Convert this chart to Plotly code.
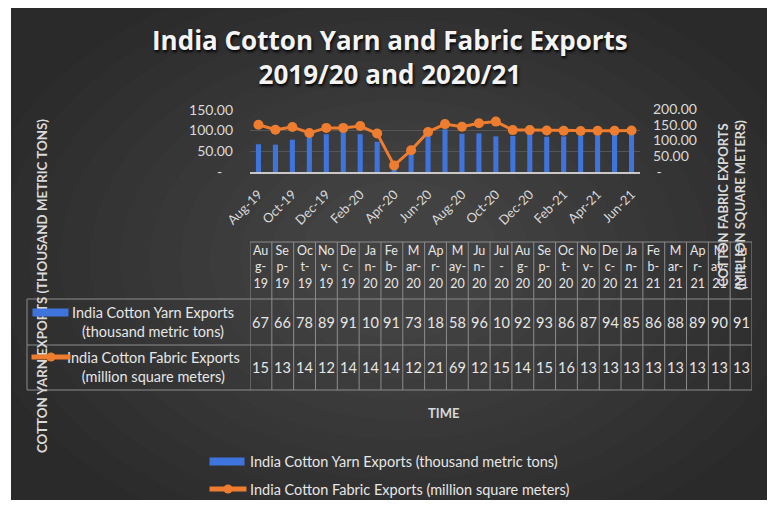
import plotly.graph_objects as go

W, H = 775, 508
OFF = 8                      # browser body margin
FW, FH = W - 2 * OFF, H - 2 * OFF

months = ["Aug-19", "Sep-19", "Oct-19", "Nov-19", "Dec-19", "Jan-20", "Feb-20", "Mar-20",
          "Apr-20", "May-20", "Jun-20", "Jul-20", "Aug-20", "Sep-20", "Oct-20", "Nov-20",
          "Dec-20", "Jan-21", "Feb-21", "Mar-21", "Apr-21", "May-21", "Jun-21"]
yarn = [67, 66, 78, 89, 91, 101, 91, 73, 18, 58, 96, 103, 92, 93, 86, 87, 94, 85, 86, 88, 89, 90, 91]
fabric = [150, 134, 143, 124, 140, 140, 146, 122, 21, 69, 127, 152, 144, 155, 160, 133, 133, 132,
          131, 130, 131, 131, 132]

left_tickvals = [0, 50, 100, 150]
left_ticktext = ["-\u00a0\u00a0\u00a0", "50.00", "100.00", "150.00"]
right_tickvals = [0, 50, 100, 150, 200]
right_ticktext = ["\u00a0-", "50.00", "100.00", "150.00", "200.00"]

yarn_label = ["India Cotton Yarn Exports", "(thousand metric tons)"]
fabric_label = ["India Cotton Fabric Exports", "(million square meters)"]
title_lines = ["India Cotton Yarn and Fabric Exports", "2019/20 and 2020/21"]
left_title = "COTTON YARN EXPORTS (THOUSAND METRIC TONS)"
right_title = ["COTTON FABRIC EXPORTS", "(MILLION SQUARE METERS)"]
x_title = "TIME"

BLUE = "#3f74dc"
ORANGE = "#ef7d2f"
TXT = "#e6e6e6"
AXT = "#d9d9d9"
GRIDC = "#8c8c8c"
FONT = "Lato, 'Open Sans', sans-serif"
TFONT = "'Open Sans', Lato, sans-serif"


def px(x):
    return (x - OFF) / FW


def py(y):
    return 1 - (y - OFF) / FH


def wrap_header(label):
    mon, yr = label.split("-")
    cut = 1 if mon[0] == "M" else (3 if mon == "Jul" else 2)
    return [mon[:cut], mon[cut:] + "-", yr]


fig = go.Figure()
fig.add_trace(go.Bar(x=months, y=yarn, name=" ".join(yarn_label), marker=dict(color=BLUE, line=dict(width=0)),
                     width=0.3, xaxis="x", yaxis="y"))
fig.add_trace(go.Scatter(x=months, y=fabric, name=" ".join(fabric_label), mode="lines+markers",
                         line=dict(color=ORANGE, width=3), marker=dict(color=ORANGE, size=10),
                         xaxis="x", yaxis="y2"))
# invisible trace to establish the data-table axis
fig.add_trace(go.Scatter(x=months, y=[0.5] * len(months), mode="markers", marker=dict(opacity=0),
                         hoverinfo="skip", showlegend=False, xaxis="x2", yaxis="y3"))

shapes = []
# background panel with a soft radial light
shapes.append(dict(type="rect", xref="paper", yref="paper", x0=px(11), x1=px(790), y0=py(520), y1=py(0),
                   fillcolor="#2a2a2a", line=dict(width=0), layer="below"))
for k in range(12):
    rx = 430 - k * 30
    ry = 300 - k * 20
    cx, cy = 400, 260
    shapes.append(dict(type="circle", xref="paper", yref="paper", x0=px(cx - rx), x1=px(cx + rx),
                       y0=py(cy + ry), y1=py(cy - ry), fillcolor="rgba(255,255,255,0.013)",
                       line=dict(width=0), layer="below"))
shapes.append(dict(type="rect", xref="paper", yref="paper", x0=px(0), x1=px(11), y0=0, y1=1,
                   fillcolor="white", line=dict(width=0), layer="below"))

n = len(months)
# table grid
for i in range(n + 1):
    shapes.append(dict(type="line", xref="x2", yref="paper", x0=i - 0.5, x1=i - 0.5, y0=py(390), y1=py(242),
                       line=dict(color=GRIDC, width=1)))
shapes.append(dict(type="line", xref="x2", yref="paper", x0=-0.5, x1=n - 0.5, y0=py(242), y1=py(242),
                   line=dict(color=GRIDC, width=1)))
for yy in (299, 345, 390):
    shapes.append(dict(type="line", xref="paper", yref="paper", x0=px(27), x1=px(752), y0=py(yy), y1=py(yy),
                       line=dict(color=GRIDC, width=1)))
shapes.append(dict(type="line", xref="paper", yref="paper", x0=px(27), x1=px(27), y0=py(390), y1=py(299),
                   line=dict(color=GRIDC, width=1)))

ann = []


def A(text, x, y, xref="paper", size=14.5, color=TXT, family=FONT, **kw):
    d = dict(text=text, x=x, y=y, xref=xref, yref="paper", showarrow=False, xanchor="center",
             yanchor="middle", font=dict(family=family, size=size, color=color))
    d.update(kw)
    return d


# title
a = A("<b>" + title_lines[0] + "<br>" + title_lines[1] + "</b>", px(390), py(57), size=26,
      color="#f4f4f4", family=TFONT, align="center")
a["font"]["shadow"] = "1px 2px 3px #000"
ann.append(a)
# left axis title
ann.append(A("<b>" + left_title + "</b>", px(42), py(286), size=13.3, color=AXT, textangle=-90))
# table header cells
for i, m in enumerate(months):
    ann.append(A("<br>".join(wrap_header(m)), i, py(267), xref="x2", size=12.5, align="center"))
# table values
for row_vals, yy in ((yarn, 322), (fabric, 367)):
    for i, v in enumerate(row_vals):
        ann.append(A(str(int(round(v)))[:2], i, py(yy), xref="x2"))
# row headers
for lbl, yy in ((yarn_label, 322), (fabric_label, 367)):
    ann.append(A(lbl[0] + "<br>" + lbl[1], px(153), py(yy), align="center"))


def key_bar(x0, x1, yc):
    return dict(text=" ", x=px((x0 + x1) / 2), y=py(yc), xref="paper", yref="paper", showarrow=False,
                xanchor="center", yanchor="middle",
                width=x1 - x0, height=7, bgcolor=BLUE, borderpad=0, font=dict(size=4))


def key_line(x0, x1, yc):
    cx = (x0 + x1) / 2
    shapes.append(dict(type="circle", xref="paper", yref="paper", x0=px(cx - 4.5), x1=px(cx + 4.5),
                       y0=py(yc + 4.5), y1=py(yc - 4.5), fillcolor=ORANGE, line=dict(width=0)))
    return dict(text=" ", x=px(cx), y=py(yc), xref="paper", yref="paper", showarrow=False,
                xanchor="center", yanchor="middle",
                width=x1 - x0, height=4, bgcolor=ORANGE, borderpad=0, font=dict(size=2))


ann.append(key_bar(33, 68, 312))
ann.append(key_line(32, 70, 357))
# right axis title
ann.append(A("<b>" + right_title[0] + "<br>" + right_title[1] + "</b>", px(731), py(205), size=13,
             color=AXT, textangle=-90))
# x title
ann.append(A("<b>" + x_title + "</b>", px(443), py(413), size=13, color=AXT))
# bottom legend
ann.append(key_bar(210, 244, 461))
ann.append(A(" ".join(yarn_label), px(248), py(461), xanchor="left"))
ann.append(key_line(210, 246, 489))
ann.append(A(" ".join(fabric_label), px(248), py(489), xanchor="left"))

fig.update_layout(
    width=FW, height=FH, margin=dict(l=0, r=0, t=0, b=0, autoexpand=False), paper_bgcolor="white",
    plot_bgcolor="rgba(0,0,0,0)", showlegend=False,
    xaxis=dict(domain=[px(250), px(640)], anchor="y", type="category", range=[-0.5, n - 0.5],
               tickmode="linear", tick0=0, dtick=2, tickangle=-45, showgrid=False, automargin=False,
               showline=True, linecolor="#c8c8c8", linewidth=1.5, ticks="",
               tickfont=dict(family=FONT, size=13, color=AXT), ticklabelstandoff=8),
    yaxis=dict(domain=[py(172), py(109)], range=[0, 152], tickvals=left_tickvals, ticktext=left_ticktext,
               showgrid=True, gridcolor="#555555", gridwidth=1, zeroline=False, showline=False,
               automargin=False,
               tickfont=dict(family=FONT, size=14, color=AXT), ticklabelstandoff=16),
    yaxis2=dict(overlaying="y", side="right", anchor="x", range=[0, 200], tickvals=right_tickvals,
                ticktext=right_ticktext, showgrid=False, zeroline=False, showline=False, automargin=False,
                tickfont=dict(family=FONT, size=14, color=AXT), ticklabelstandoff=12),
    xaxis2=dict(domain=[px(250), px(752)], anchor="y3", type="category", range=[-0.5, n - 0.5],
                visible=False, automargin=False),
    yaxis3=dict(domain=[py(390), py(242)], anchor="x2", range=[0, 1], visible=False, automargin=False),
    shapes=shapes, annotations=ann,
)

fig.write_html("out.html")
